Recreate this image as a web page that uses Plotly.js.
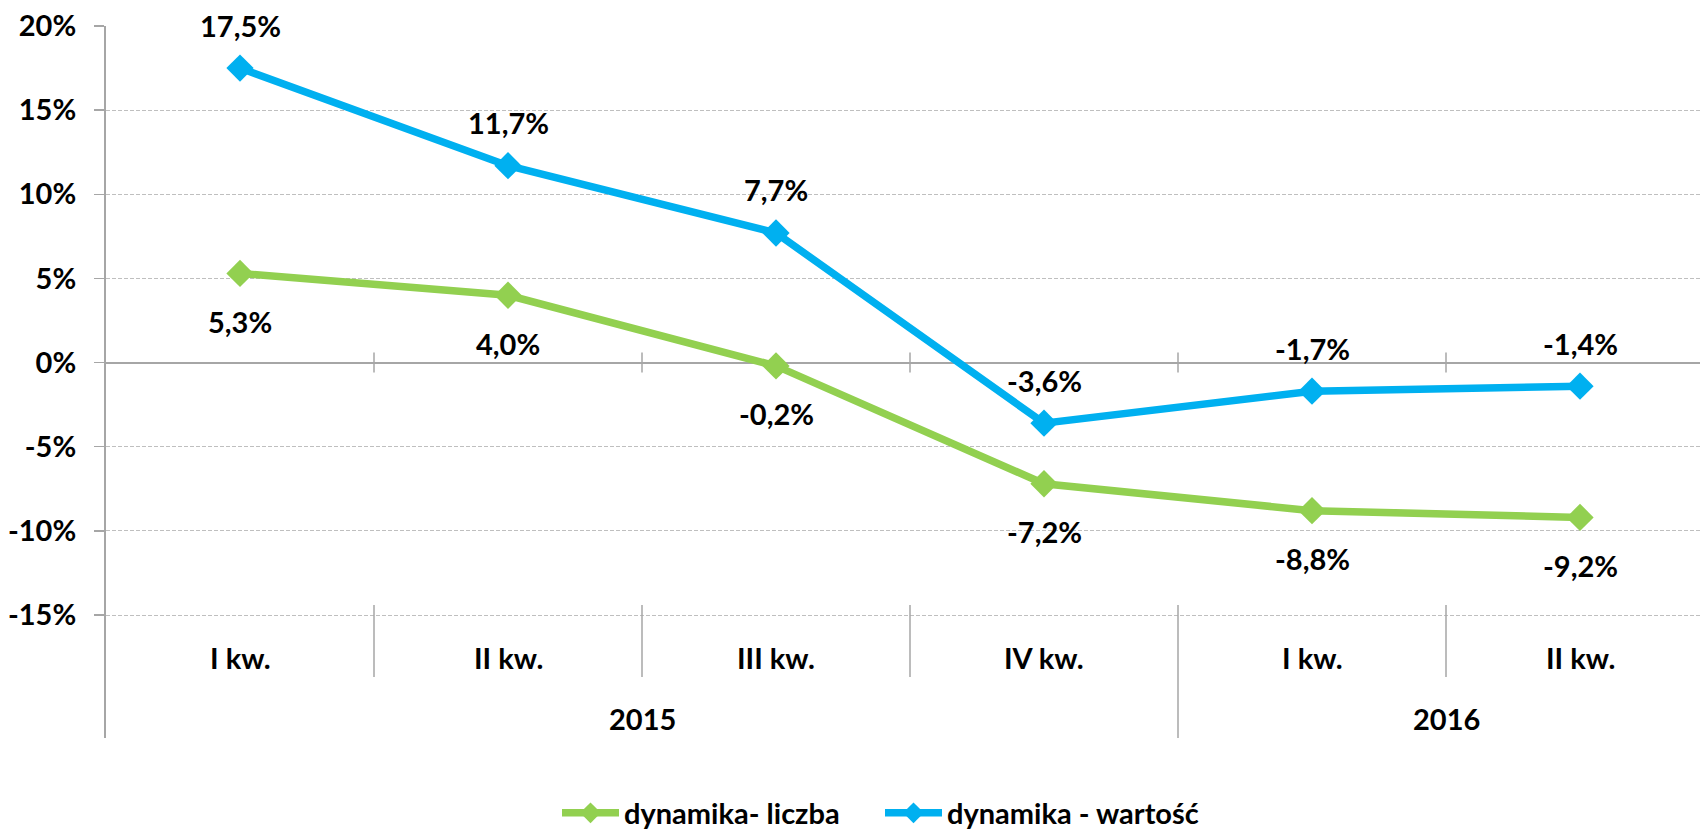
<!DOCTYPE html>
<html>
<head>
<meta charset="utf-8">
<script src="https://cdn.plot.ly/plotly-3.0.1.min.js"></script>
<style>
  html, body { margin: 0; padding: 0; background: #ffffff; }
  #chart { width: 1700px; height: 831px; }
</style>
</head>
<body>
<div id="chart"></div>
<script>
// ---- data ----
const years = ['2015', '2015', '2015', '2015', '2016', '2016'];
const quarters = ['I kw.', 'II kw.', 'III kw.', 'IV kw.', 'I kw.', 'II kw.'];
const dynamikaLiczba = [5.3, 4.0, -0.2, -7.2, -8.8, -9.2];
const dynamikaWartosc = [17.5, 11.7, 7.7, -3.6, -1.7, -1.4];
const yTickVals = [-15, -10, -5, 0, 5, 10, 15, 20];
const yTickText = ['-15%', '-10%', '-5%', '0%', '5%', '10%', '15%', '20%'];
const seriesNames = ['dynamika- liczba', 'dynamika - wartość'];

// ---- styles ----
const GREEN = '#92D050';
const BLUE = '#00B0F0';
const FONT = 'Lato, "Open Sans", sans-serif';
const FSIZE = 29;
const idx = quarters.map((_, i) => i);
const fmt = v => v.toFixed(1).replace('.', ',') + '%';

const traces = [
  {
    x: idx, y: dynamikaLiczba, name: seriesNames[0], type: 'scatter', mode: 'lines+markers',
    line: { color: GREEN, width: 7.5 },
    marker: { symbol: 'diamond', size: 21, color: GREEN },
    hoverinfo: 'skip'
  },
  {
    x: idx, y: dynamikaWartosc, name: seriesNames[1], type: 'scatter', mode: 'lines+markers',
    line: { color: BLUE, width: 7.5 },
    marker: { symbol: 'diamond', size: 21, color: BLUE },
    hoverinfo: 'skip'
  }
];

const annFont = { family: FONT, size: FSIZE, color: '#000000', weight: 'bold' };
const annotations = [];
// data labels
idx.forEach(i => {
  annotations.push({ x: i, y: dynamikaWartosc[i], xref: 'x', yref: 'y', text: fmt(dynamikaWartosc[i]),
    showarrow: false, yshift: 43, yanchor: 'middle', font: annFont });
  annotations.push({ x: i, y: dynamikaLiczba[i], xref: 'x', yref: 'y', text: fmt(dynamikaLiczba[i]),
    showarrow: false, yshift: -48, yanchor: 'middle', font: annFont });
});
// category labels
const plotTop = 26, plotBottom = 738, plotH = plotBottom - plotTop;
const py = px => (plotBottom - px) / plotH;
idx.forEach(i => {
  annotations.push({ x: i, y: py(657), xref: 'x', yref: 'paper', text: quarters[i],
    showarrow: false, yanchor: 'middle', font: annFont });
});
// year labels (group centers)
const uniqYears = [...new Set(years)];
uniqYears.forEach(yr => {
  const ii = idx.filter(i => years[i] === yr);
  const c = (ii[0] - 0.5 + ii[ii.length - 1] + 0.5) / 2;
  annotations.push({ x: c, y: py(718), xref: 'x', yref: 'paper', text: yr,
    showarrow: false, yanchor: 'middle', font: annFont });
});

// shapes: dividers and zero-line ticks
const shapes = [];
const AXC = '#A6A6A6';
for (let i = 0; i < idx.length - 1; i++) {
  const b = i + 0.5;
  const groupBreak = years[i] !== years[i + 1];
  shapes.push({ type: 'line', xref: 'x', yref: 'paper', x0: b, x1: b,
    y0: py(605), y1: groupBreak ? 0 : py(677), line: { color: AXC, width: 1.5 } });
  shapes.push({ type: 'line', xref: 'x', yref: 'y', ysizemode: 'pixel', yanchor: 0,
    x0: b, x1: b, y0: -10, y1: 10, line: { color: AXC, width: 1.5 } });
}

const pxPerUnit = 268;
const plotLeft = 106, plotRight = 1700;
const xmax = -0.5 + (plotRight - plotLeft) / pxPerUnit;
const ymin = 20 - plotH / ((615 - 26) / 35);

const layout = {
  width: 1700, height: 831,
  paper_bgcolor: '#ffffff', plot_bgcolor: '#ffffff',
  margin: { l: plotLeft, r: 1700 - plotRight, t: plotTop, b: 831 - plotBottom, pad: 0, autoexpand: false },
  font: { family: FONT, size: FSIZE, color: '#000000', weight: 'bold' },
  showlegend: true,
  legend: {
    orientation: 'h', x: (557 - plotLeft) / (plotRight - plotLeft), xanchor: 'left',
    y: -75 / plotH, yanchor: 'middle',
    font: { family: FONT, size: FSIZE, color: '#000000', weight: 'bold' },
    itemwidth: 57, entrywidth: 251, entrywidthmode: 'pixels',
    bgcolor: 'rgba(0,0,0,0)'
  },
  xaxis: {
    range: [-0.5, xmax], showticklabels: false, showgrid: false, zeroline: false,
    showline: false, ticks: '', fixedrange: true
  },
  yaxis: {
    range: [ymin, 20], tickvals: yTickVals, ticktext: yTickText,
    showgrid: true, gridcolor: '#BFBFBF', gridwidth: 1, griddash: '4px,2px',
    zeroline: true, zerolinecolor: AXC, zerolinewidth: 2,
    showline: true, linecolor: AXC, linewidth: 2,
    ticks: 'outside', ticklen: 10, tickcolor: AXC, tickwidth: 1.5,
    ticklabelstandoff: 12,
    tickfont: { family: FONT, size: FSIZE, color: '#000000', weight: 'bold' },
    fixedrange: true
  },
  annotations: annotations,
  shapes: shapes
};

Plotly.newPlot('chart', traces, layout, { displayModeBar: false, staticPlot: true });
</script>
</body>
</html>
